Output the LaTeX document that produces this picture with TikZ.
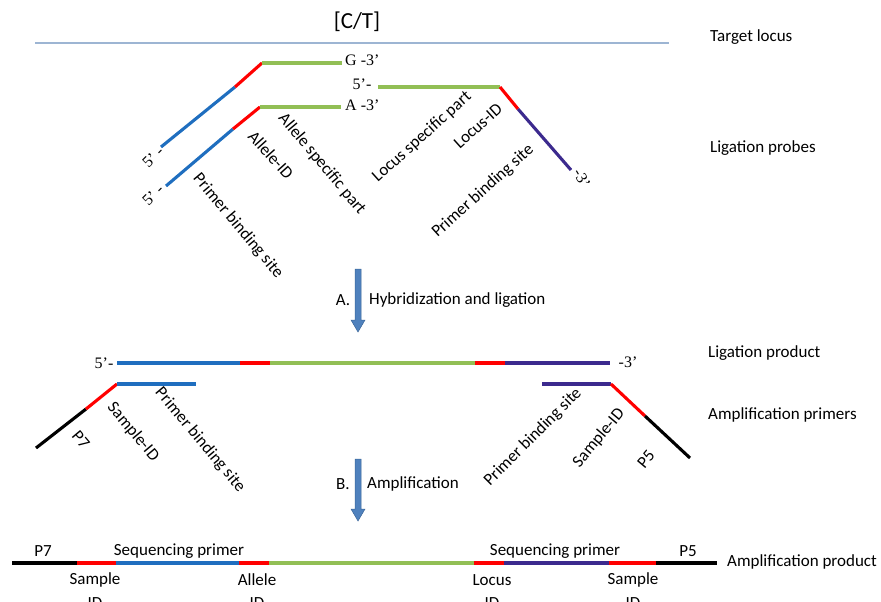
\documentclass[tikz,border=0pt]{standalone}
\usepackage{fontspec}
\setmainfont{Liberation Serif}
\newfontfamily\calfont{Carlito}
\definecolor{sblue}{HTML}{1F6EBF}
\definecolor{sred}{HTML}{FF0000}
\definecolor{sgreen}{HTML}{92BF55}
\definecolor{spurple}{HTML}{3C2A8E}
\definecolor{tline}{HTML}{9DB5D3}
\definecolor{arrfill}{HTML}{4F81BD}
\definecolor{arrdraw}{HTML}{3B6699}
\begin{document}
\begin{tikzpicture}[x=1pt,y=-1pt,
  strand/.style={line width=3.1pt},
  lab/.style={font=\calfont\fontsize{17}{19}\selectfont, inner sep=0pt},
  ser/.style={font=\fontsize{16}{18}\selectfont, inner sep=0pt},
  blockarrow/.style={fill=arrfill, draw=arrdraw, line width=0.5pt}]
\useasboundingbox (0,0) rectangle (881,602);

% target locus
\node[lab, font=\calfont\fontsize{23}{25}\selectfont] (ct) at (357,22) {[C/T]};
\coordinate (tl1) at (35,43);
\coordinate (tl2) at (669,43);
\draw[tline, line width=1.3pt] (tl1) -- (tl2);
\node[lab, anchor=west] (tlab) at (710,37) {Target locus};
\node[lab, anchor=west] (lpr) at (710,148) {Ligation probes};

% probe G
\coordinate (g0) at (161,147);
\coordinate (g1) at (235,87);
\coordinate (g2) at (262,63);
\coordinate (g3) at (342,63);
\draw[strand, sblue] (g0) -- (g1);
\draw[strand, sred] (g1) -- (g2);
\draw[strand, sgreen] (g2) -- (g3);
\node[ser, anchor=west] (gt) at (345,60) {G -3’};
\node[ser, rotate=45] (g5) at (153,157) {5’ -};

% probe A
\coordinate (a0) at (166,186);
\coordinate (a1) at (233,129);
\coordinate (a2) at (260,107);
\coordinate (a3) at (341,107);
\draw[strand, sblue] (a0) -- (a1);
\draw[strand, sred] (a1) -- (a2);
\draw[strand, sgreen] (a2) -- (a3);
\node[ser, anchor=west] (at) at (345,105) {A -3’};
\node[ser, rotate=45] (a5) at (153,195) {5’ -};

% locus probe
\node[ser] (l5) at (362,84) {5’-};
\coordinate (l0) at (378,87);
\coordinate (l1) at (500,87);
\coordinate (l2) at (518,109);
\coordinate (l3) at (571,170);
\draw[strand, sgreen] (l0) -- (l1);
\draw[strand, sred] (l1) -- (l2);
\draw[strand, spurple] (l2) -- (l3);
\node[ser, rotate=-60] (l3t) at (582,178) {-3’};

% probe labels
\node[lab, rotate=-48] (aid) at (271,155) {Allele-ID};
\node[lab, rotate=-50] (asp) at (322,164) {Allele specific part};
\node[lab, rotate=-50] (pbs1) at (238,226) {Primer binding site};
\node[lab, rotate=42] (lsp) at (422,137) {Locus specific part};
\node[lab, rotate=42] (lid) at (478,126) {Locus-ID};
\node[lab, rotate=42] (pbs2) at (483,191) {Primer binding site};

% arrow A
\draw[blockarrow] (355,269) -- (361,269) -- (361,320) -- (365,320) -- (358,332) -- (351,320) -- (355,320) -- cycle;
\node[lab] (aa) at (343,300) {A.};
\node[lab, anchor=west] (hyb) at (369,300) {Hybridization and ligation};

% ligation product
\node[ser] (p5) at (104,363) {5’-};
\coordinate (p0) at (117,363);
\coordinate (p1) at (240,363);
\coordinate (p2) at (270,363);
\coordinate (p3) at (475,363);
\coordinate (p4) at (505,363);
\coordinate (p5e) at (610,363);
\draw[strand, sblue] (p0) -- (p1);
\draw[strand, sred] (p1) -- (p2);
\draw[strand, sgreen] (p2) -- (p3);
\draw[strand, sred] (p3) -- (p4);
\draw[strand, spurple] (p4) -- (p5e);
\node[ser] (p3t) at (628,362) {-3’};
\node[lab, anchor=west] (lpd) at (708,353) {Ligation product};
\node[lab, anchor=west] (apr) at (708,415) {Amplification primers};

% left amplification primer
\coordinate (q0) at (36,448);
\coordinate (q1) at (86,409);
\coordinate (q2) at (117,384);
\coordinate (q3) at (196,384);
\draw[strand, black] (q0) -- (q1);
\draw[strand, sred] (q1) -- (q2);
\draw[strand, sblue] (q2) -- (q3);
\node[lab, rotate=-50] (p7l) at (81,440) {P7};
\node[lab, rotate=-50] (sidl) at (133,432) {Sample-ID};
\node[lab, rotate=-50] (pbs3) at (200,440) {Primer binding site};

% right amplification primer
\coordinate (r0) at (542,384);
\coordinate (r1) at (611,384);
\coordinate (r2) at (645,416);
\coordinate (r3) at (690,458);
\draw[strand, spurple] (r0) -- (r1);
\draw[strand, sred] (r1) -- (r2);
\draw[strand, black] (r2) -- (r3);
\node[lab, rotate=45] (pbs4) at (533,437) {Primer binding site};
\node[lab, rotate=50] (sidr) at (599,438) {Sample-ID};
\node[lab, rotate=50] (p5r) at (646,459) {P5};

% arrow B
\draw[blockarrow] (355,459) -- (361,459) -- (361,509) -- (365,509) -- (358,521) -- (351,509) -- (355,509) -- cycle;
\node[lab] (bb) at (343,484) {B.};
\node[lab, anchor=west] (amp) at (367,484) {Amplification};

% amplification product
\coordinate (s0) at (12,563);
\coordinate (s1) at (77,563);
\coordinate (s2) at (116,563);
\coordinate (s3) at (239,563);
\coordinate (s4) at (269,563);
\coordinate (s5) at (474,563);
\coordinate (s6) at (504,563);
\coordinate (s7) at (609,563);
\coordinate (s8) at (656,563);
\coordinate (s9) at (717,563);
\draw[strand, black] (s0) -- (s1);
\draw[strand, sred] (s1) -- (s2);
\draw[strand, sblue] (s2) -- (s3);
\draw[strand, sred] (s3) -- (s4);
\draw[strand, sgreen] (s4) -- (s5);
\draw[strand, sred] (s5) -- (s6);
\draw[strand, spurple] (s6) -- (s7);
\draw[strand, sred] (s7) -- (s8);
\draw[strand, black] (s8) -- (s9);
\node[lab] (p7b) at (43,551) {P7};
\node[lab] (sq1) at (179,551) {Sequencing primer};
\node[lab] (sq2) at (555,551) {Sequencing primer};
\node[lab] (p5b) at (688,551) {P5};
\node[lab, anchor=west] (apd) at (727,562) {Amplification product};
\node[lab] (sm1) at (95,580) {Sample};
\node[lab] (id1) at (95,603) {ID};
\node[lab] (al1) at (257,580) {Allele};
\node[lab] (id2) at (257,603) {ID};
\node[lab] (lc1) at (492,580) {Locus};
\node[lab] (id3) at (492,603) {ID};
\node[lab] (sm2) at (633,580) {Sample};
\node[lab] (id4) at (633,603) {ID};
\end{tikzpicture}
\end{document}
